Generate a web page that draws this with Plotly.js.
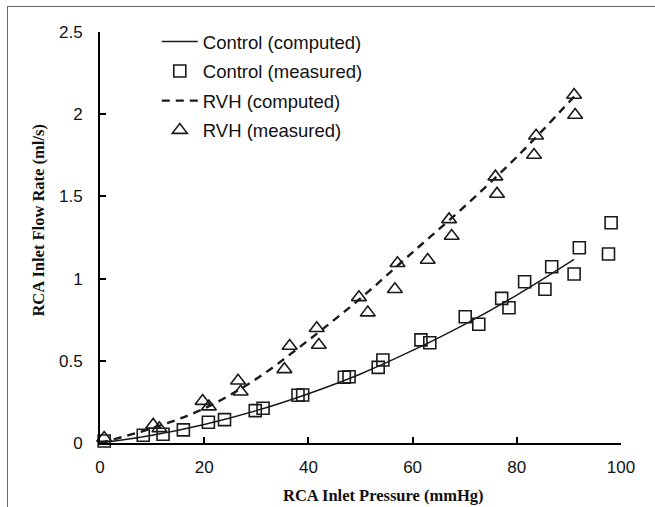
<!DOCTYPE html>
<html>
<head>
<meta charset="utf-8">
<script src="https://cdn.plot.ly/plotly-3.0.1.min.js"></script>
<style>
html,body{margin:0;padding:0;background:#fff;}
#wrap{position:relative;width:655px;height:507px;}
#chart{width:655px;height:507px;}
#frame{position:absolute;left:7px;top:6px;width:660px;height:520px;border-left:1.5px solid #666;border-top:1.5px solid #666;pointer-events:none;}
</style>
</head>
<body>
<div id="wrap"><div id="chart"></div><div id="frame"></div></div>
<script>
// Control measured
const ctrlMeasX = [0.8, 8.3, 12.1, 16.0, 20.8, 23.9, 29.8, 31.3, 38.0, 38.9, 46.9, 47.8, 53.4, 54.3, 61.6, 63.3, 70.1, 72.7, 77.1, 78.5, 81.5, 85.4, 86.7, 91.0, 92.0, 97.6, 98.1];
const ctrlMeasY = [0.012, 0.047, 0.053, 0.08, 0.126, 0.142, 0.197, 0.211, 0.29, 0.292, 0.40, 0.403, 0.46, 0.505, 0.627, 0.61, 0.768, 0.722, 0.88, 0.823, 0.981, 0.935, 1.072, 1.028, 1.188, 1.15, 1.34];
// Control computed
const ctrlCompX = [0, 10, 20, 30, 40, 50, 60, 70, 80, 91];
const ctrlCompY = [0, 0.047, 0.113, 0.197, 0.30, 0.42, 0.563, 0.722, 0.90, 1.117];
// RVH measured
const rvhMeasX = [0.8, 10.2, 11.4, 19.7, 20.9, 26.5, 27.0, 35.4, 36.4, 41.6, 42.0, 49.7, 51.4, 56.6, 57.1, 62.9, 67.0, 67.5, 75.9, 76.2, 83.3, 83.7, 91.0, 91.2];
const rvhMeasY = [0.03, 0.11, 0.089, 0.255, 0.221, 0.379, 0.312, 0.448, 0.59, 0.698, 0.596, 0.886, 0.793, 0.935, 1.093, 1.113, 1.36, 1.259, 1.62, 1.515, 1.752, 1.869, 2.117, 1.995];
// RVH computed
const rvhCompX = [0, 10, 20, 30, 40, 50, 60, 70, 80, 91];
const rvhCompY = [0, 0.09, 0.21, 0.39, 0.625, 0.88, 1.16, 1.44, 1.74, 2.107];

const names = ['Control (computed)', 'Control (measured)', 'RVH (computed)', 'RVH (measured)'];
const xTicks = [0, 20, 40, 60, 80, 100];
const yTicks = [0, 0.5, 1, 1.5, 2, 2.5];
const yTickText = ['0', '0.5', '1', '1.5', '2', '2.5'];

const ink = '#1a1a1a';
const traces = [
  {x: ctrlCompX, y: ctrlCompY, name: names[0], mode: 'lines', type: 'scatter', legendgroup: 'a',
   line: {color: ink, width: 1.5, shape: 'spline'}},
  {x: ctrlMeasX, y: ctrlMeasY, name: names[1], mode: 'markers', type: 'scatter', legendgroup: 'b', cliponaxis: false,
   marker: {symbol: 'square-open', size: 12, color: ink, line: {width: 1.6, color: ink}}},
  {x: rvhCompX, y: rvhCompY, name: names[2], mode: 'lines', type: 'scatter', legendgroup: 'c',
   line: {color: ink, width: 2.4, dash: '8px,6px', shape: 'spline'}},
  {x: rvhMeasX, y: rvhMeasY, name: names[3], mode: 'markers', type: 'scatter', legendgroup: 'd', cliponaxis: false,
   marker: {symbol: 'triangle-up-open', size: 13, color: ink, line: {width: 1.6, color: ink}}}
];

const layout = {
  width: 655, height: 507,
  margin: {l: 100, r: 34, t: 32, b: 64},
  paper_bgcolor: '#fff', plot_bgcolor: '#fff',
  font: {family: 'Liberation Sans, Arial, sans-serif', color: '#111'},
  showlegend: true,
  legend: {x: 0.109, y: 1.022, xanchor: 'left', yanchor: 'top', bgcolor: 'rgba(0,0,0,0)',
           font: {family: 'Liberation Sans, Arial, sans-serif', size: 18.5, color: '#111'},
           traceorder: 'grouped', tracegroupgap: 2.5, itemwidth: 36},
  xaxis: {range: [0, 100], tickvals: xTicks, ticks: 'inside', ticklen: 6, tickwidth: 2, tickcolor: '#000',
          showline: true, linecolor: '#000', linewidth: 2, showgrid: false, zeroline: false,
          tickfont: {size: 17, family: 'Liberation Sans, Arial, sans-serif', color: '#111'}, ticklabelstandoff: 8},
  yaxis: {range: [0, 2.5], tickvals: yTicks, ticktext: yTickText, ticks: 'inside', ticklen: 6, tickwidth: 2, tickcolor: '#000',
          showline: true, linecolor: '#000', linewidth: 2, showgrid: false, zeroline: false,
          tickfont: {size: 17, family: 'Liberation Sans, Arial, sans-serif', color: '#111'}, ticklabelstandoff: 12},
  annotations: [
    {text: 'RCA Inlet Pressure (mmHg)', xref: 'paper', yref: 'paper', x: 0.545, y: -0.128, xanchor: 'center', yanchor: 'middle',
     showarrow: false, font: {family: 'Liberation Serif, Times New Roman, serif', size: 16.5, color: '#111', weight: 'bold'}},
    {text: 'RCA Inlet Flow Rate (ml/s)', xref: 'paper', yref: 'paper', x: -0.118, y: 0.54, xanchor: 'center', yanchor: 'middle',
     textangle: -90, showarrow: false, font: {family: 'Liberation Serif, Times New Roman, serif', size: 16.5, color: '#111', weight: 'bold'}}
  ]
};

Plotly.newPlot('chart', traces, layout, {displayModeBar: false, staticPlot: true});
</script>
</body>
</html>
